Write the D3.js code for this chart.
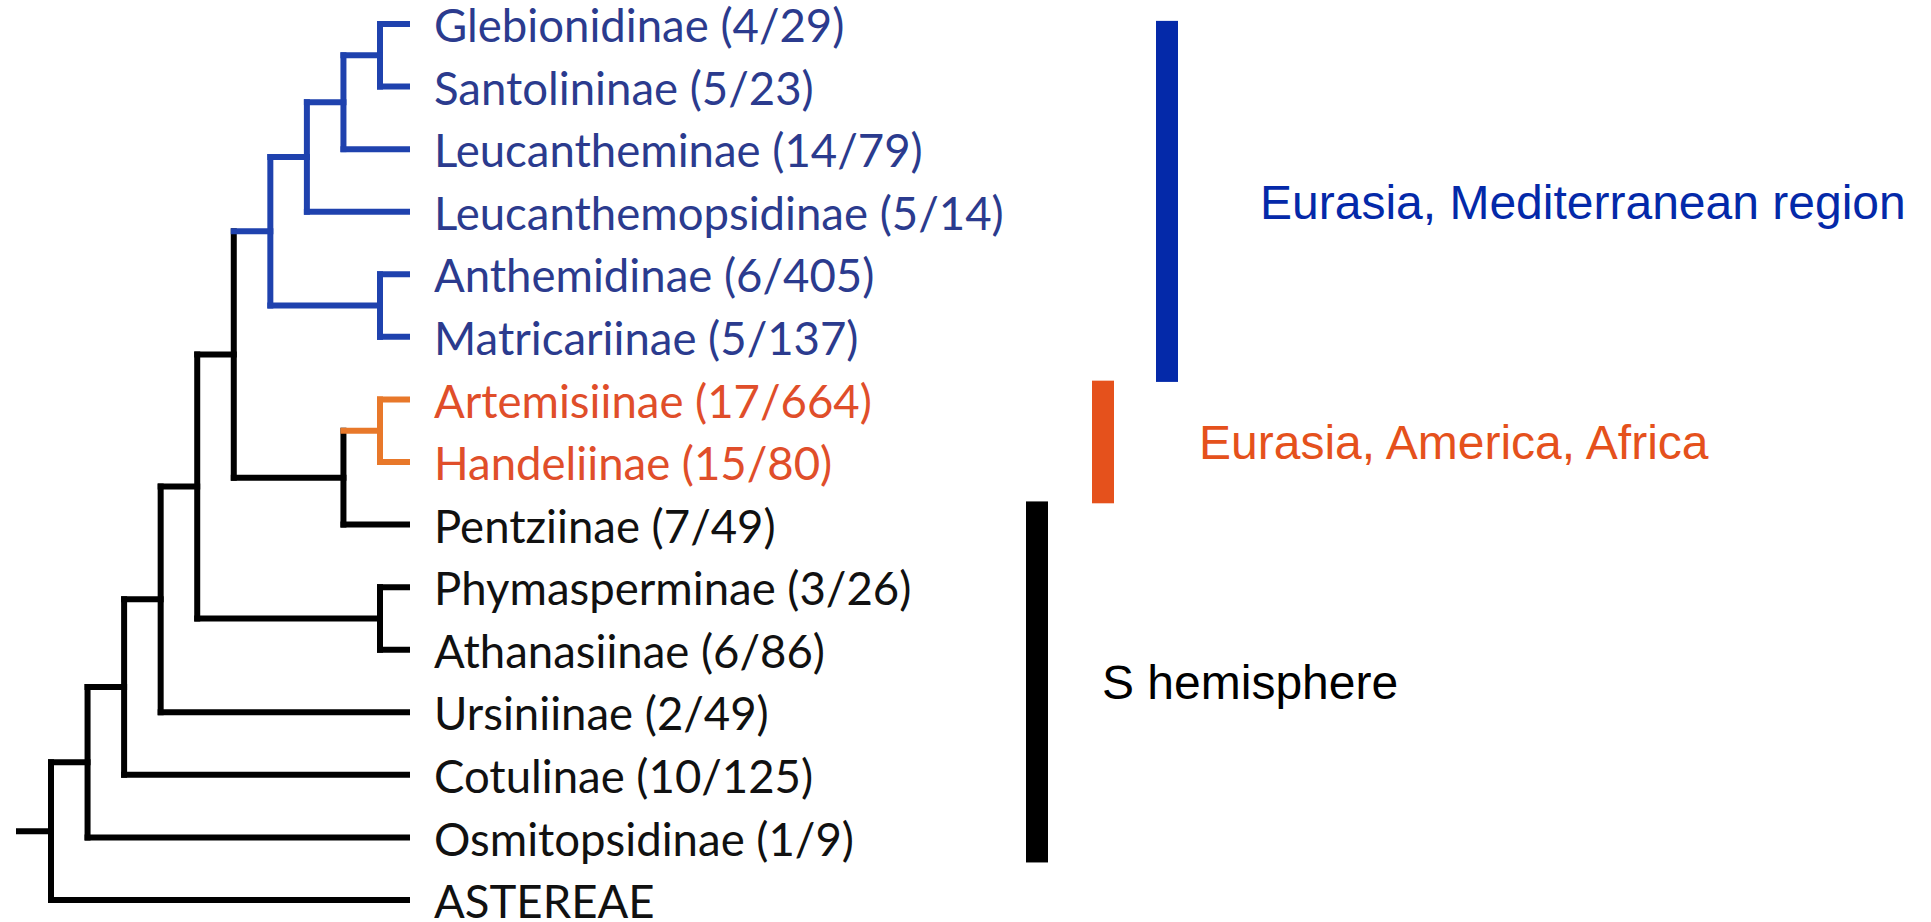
<!DOCTYPE html>
<html><head><meta charset="utf-8">
<script src="https://cdn.jsdelivr.net/npm/d3@7"></script>
<style>html,body{margin:0;padding:0;background:#fff;} svg{display:block}</style>
</head><body>
<svg id="chart" width="1931" height="922"></svg>
<script>
// ---- data ----
const taxa = ["Glebionidinae","Santolininae","Leucantheminae","Leucanthemopsidinae","Anthemidinae","Matricariinae","Artemisiinae","Handeliinae","Pentziinae","Phymasperminae","Athanasiinae","Ursiniinae","Cotulinae","Osmitopsidinae","ASTEREAE"];
const genera  = [4, 5, 14, 5, 6, 5, 17, 15, 7, 3, 6, 2, 10, 1, null];
const species = [29, 23, 79, 14, 405, 137, 664, 80, 49, 26, 86, 49, 125, 9, null];
const taxonGroup = ["eur","eur","eur","eur","eur","eur","eurAm","eurAm","south","south","south","south","south","south","out"];
const topology = "((((((((((Glebionidinae,Santolininae),Leucantheminae),Leucanthemopsidinae),(Anthemidinae,Matricariinae)),((Artemisiinae,Handeliinae),Pentziinae)),(Phymasperminae,Athanasiinae)),Ursiniinae),Cotulinae),Osmitopsidinae),ASTEREAE)";
const regionNames = ["Eurasia, Mediterranean region", "Eurasia, America, Africa", "S hemisphere"];
const regionGroup = ["eur", "eurAm", "south"];
const regionStartRow = [-0.05, 5.7, 7.63];
const regionEndRow   = [5.72, 7.66, 13.4];

// ---- styles / layout ----
const branchColor = {eur:"#1F42AE", eurAm:"#E8782A", other:"#000000"};
const labelColor  = {eur:"#2B3B8E", eurAm:"#E04E2A", other:"#111111"};
const regionColor = {eur:"#0429A9", eurAm:"#E5511C", south:"#000000"};
const barX  = {eur:1156, eurAm:1092, south:1026};
const textX = {eur:1260, eurAm:1199, south:1102};

const svg = d3.select("#chart");

function parseNewick(s){
  let i = 0;
  function node(){
    if (s[i] === "("){
      i++;
      const children = [node()];
      while (s[i] === ","){ i++; children.push(node()); }
      i++;
      return {children};
    }
    let name = "";
    while (i < s.length && !",()".includes(s[i])) name += s[i++];
    return {name};
  }
  return node();
}

const root = d3.hierarchy(parseNewick(topology));
const rowY = d3.scaleLinear().domain([0, taxa.length - 1]).range([24, 900]);
const levelX = d3.scaleLinear().domain([0, 9]).range([51, 380]);
const tipX = 407, stubX = 19;

root.eachAfter(n => {
  if (!n.children){
    const idx = taxa.indexOf(n.data.name);
    n.idx = idx;
    n.y = rowY(idx);
    n.x = tipX;
    n.group = taxonGroup[idx];
  } else {
    n.y = (n.children[0].y + n.children[n.children.length-1].y) / 2;
    n.x = levelX(root.height - n.height);
    const gs = new Set(n.leaves().map(l => taxonGroup[l.idx]));
    n.group = gs.size === 1 ? [...gs][0] : "mixed";
  }
});
const bcol = g => branchColor[g] || branchColor.other;

const gTree = svg.append("g")
  .attr("fill","none").attr("stroke-width",6).attr("stroke-linecap","square");

// vertical segments (per internal node)
gTree.selectAll("line.v").data(root.descendants().filter(d => d.children))
  .join("line").attr("class","v")
  .attr("x1", d => d.x).attr("x2", d => d.x)
  .attr("y1", d => d.children[0].y).attr("y2", d => d.children[d.children.length-1].y)
  .attr("stroke", d => bcol(d.group));
// horizontal segments (per child)
gTree.selectAll("line.h").data(root.descendants().filter(d => d.parent))
  .join("line").attr("class","h")
  .attr("x1", d => d.parent.x).attr("x2", d => d.x)
  .attr("y1", d => d.y).attr("y2", d => d.y)
  .attr("stroke", d => bcol(d.group));
// root stub
gTree.append("line")
  .attr("x1", stubX).attr("x2", root.x).attr("y1", root.y).attr("y2", root.y)
  .attr("stroke", branchColor.other);

// tip labels
svg.append("g").selectAll("text").data(root.leaves())
  .join("text")
  .attr("x", 434).attr("y", d => d.y).attr("dy", "0.4em")
  .attr("font-family", "Lato, 'Open Sans', sans-serif")
  .attr("font-size", 45.5)
  .attr("fill", d => labelColor[d.group] || labelColor.other)
  .text(d => genera[d.idx] != null ? `${taxa[d.idx]} (${genera[d.idx]}/${species[d.idx]})` : taxa[d.idx]);

// region bars and names
const regions = regionNames.map((name, i) => ({name, group: regionGroup[i], y0: rowY(regionStartRow[i]), y1: rowY(regionEndRow[i])}));
svg.append("g").selectAll("rect").data(regions).join("rect")
  .attr("x", d => barX[d.group]).attr("width", 22)
  .attr("y", d => d.y0).attr("height", d => d.y1 - d.y0)
  .attr("fill", d => regionColor[d.group]);
svg.append("g").selectAll("text").data(regions).join("text")
  .attr("x", d => textX[d.group]).attr("y", d => (d.y0 + d.y1) / 2).attr("dy", "0.36em")
  .attr("font-family", "'Liberation Sans', Arial, sans-serif")
  .attr("font-size", 48)
  .attr("fill", d => regionColor[d.group])
  .text(d => d.name);
</script>
</body></html>
